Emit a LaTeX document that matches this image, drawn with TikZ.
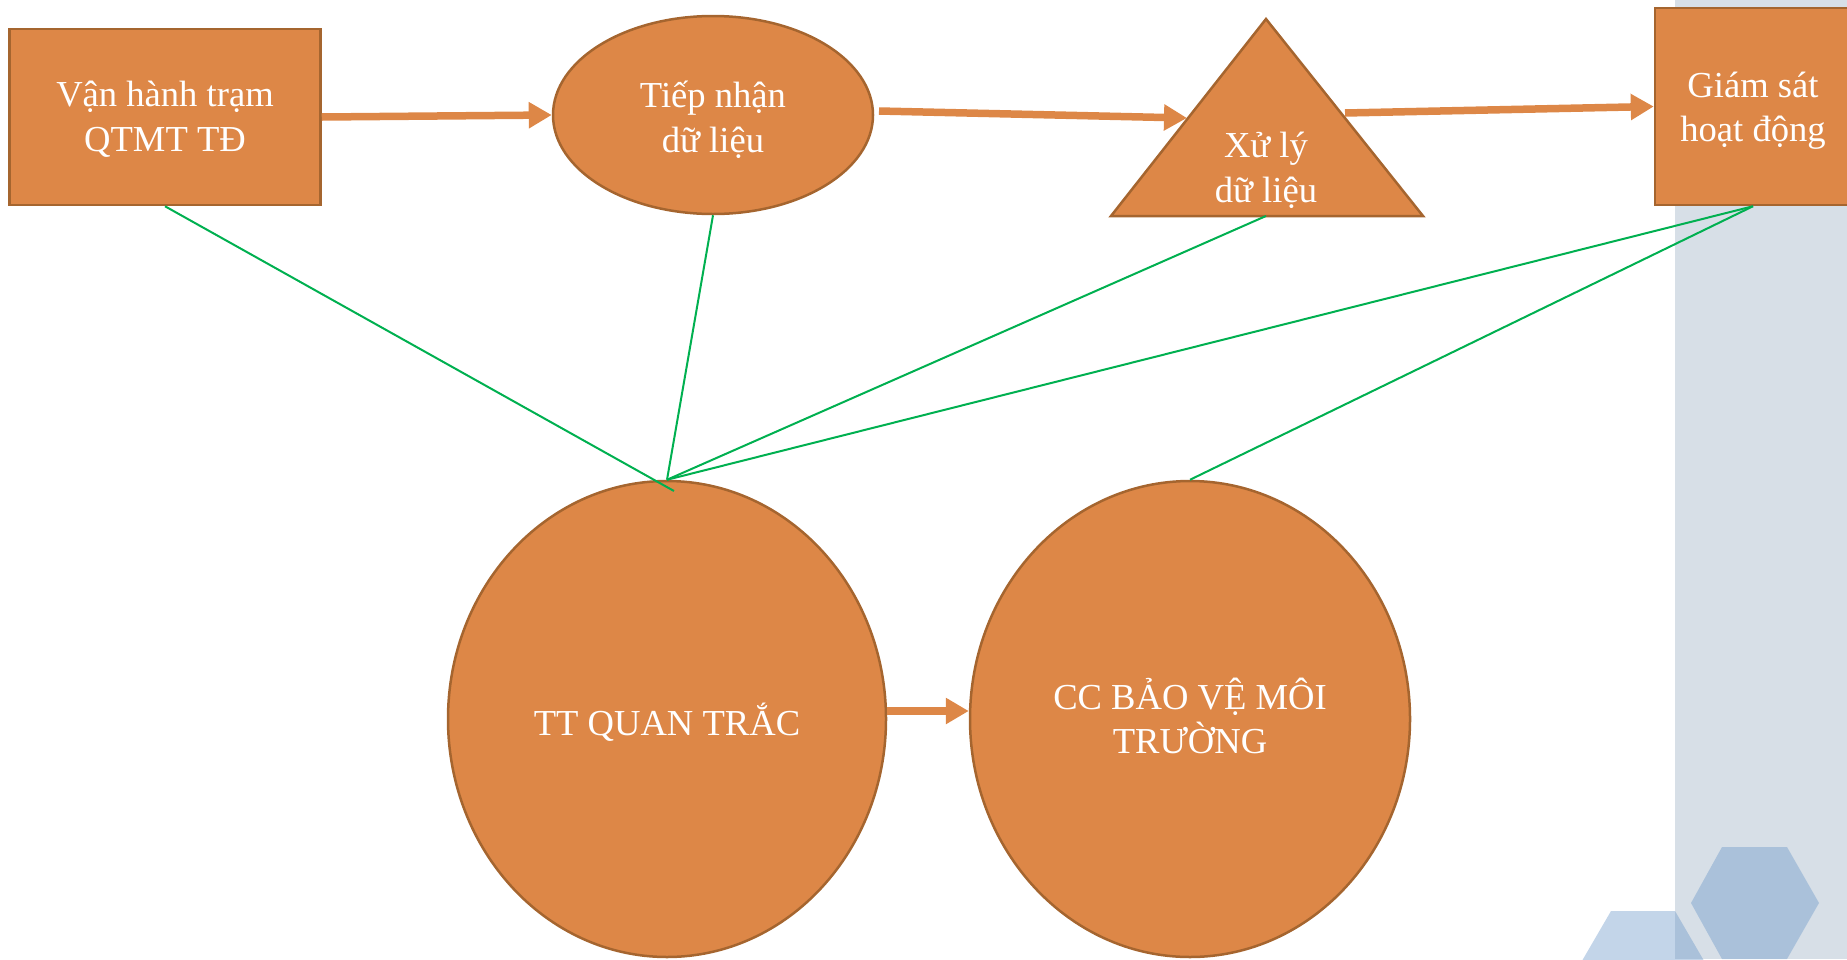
\documentclass[tikz,border=0pt]{standalone}
\usepackage{fontspec}
\setmainfont{Liberation Serif}
\usetikzlibrary{shapes.geometric,arrows.meta}
\definecolor{org}{HTML}{DD8747}
\definecolor{orgdk}{HTML}{A5652F}
\definecolor{grn}{HTML}{00B050}
\definecolor{panel}{HTML}{D7DFE7}
\definecolor{hexc}{RGB}{97,145,197}
\begin{document}
\begin{tikzpicture}[x=1pt,y=-1pt,
  shp/.style={fill=org,draw=orgdk,line width=2.5pt,inner sep=0pt},
  txt/.style={text=white,font=\fontsize{36.6}{44.5}\selectfont,align=center,inner sep=0pt,anchor=base},
  flow/.style={draw=org,line width=7.5pt,-{Triangle[length=23pt,width=25pt]}},
  link/.style={draw=grn,line width=2pt},
  hexa/.style={fill=hexc,fill opacity=0.38}]
\useasboundingbox (0,0) rectangle (1847,959);
\begin{scope}
\clip (0,0) rectangle (1847,959);
\fill[panel] (1675,0) rectangle (1847,959);
\fill[hexa] (1691,903)--(1722,847)--(1787,847)--(1819,903)--(1787,959)--(1722,959)--cycle;
\fill[hexa] (1707,966)--(1675,911)--(1611,911)--(1579,966)--(1611,1021)--(1675,1021)--cycle;

% shapes
\node[shp,rectangle,minimum width=311pt,minimum height=176pt] (b1) at (165,117) {};
\node[shp,ellipse,minimum width=320pt,minimum height=198pt] (e1) at (713,115) {};
\draw[shp] (1266,19) -- (1423,216) -- (1111,216) -- cycle;
\coordinate (tbase) at (1266,216);
\node[shp,rectangle,minimum width=196pt,minimum height=197pt] (b2) at (1753,106.5) {};
\node[shp,ellipse,minimum width=438pt,minimum height=476pt] (c1) at (667,719) {};
\node[shp,ellipse,minimum width=440pt,minimum height=476pt] (c2) at (1190,719) {};

% texts (anchor = baseline of last line)
\node[txt] (b1t) at (165,151) {Vận hành trạm\\QTMT TĐ};
\node[txt] (e1t) at (713,152) {Tiếp nhận\\dữ liệu};
\node[txt] (t1t) at (1266,202) {Xử lý\\dữ liệu};
\node[txt] (b2t) at (1753,141.5) {Giám sát\\hoạt động};
\node[txt] (c1t) at (667,735) {TT QUAN TRẮC};
\node[txt] (c2t) at (1190,753.5) {CC BẢO VỆ MÔI\\TRƯỜNG};

% green links
\coordinate (over) at (674,491);
\draw[link] (b1.south) -- (over);
\draw[link] (e1.south) -- (c1.north);
\draw[link] (tbase) -- (c1.north);
\draw[link] (b2.south) -- (c1.north);
\draw[link] (b2.south) -- (c2.north);

% orange arrows
\coordinate (a2s) at (879,111);
\coordinate (a2e) at (1187,118);
\coordinate (a3s) at (1345,113);
\draw[flow] (b1.east) -- (e1.west);
\draw[flow] (a2s) -- (a2e);
\draw[flow] (a3s) -- (b2.west);
\draw[flow] ([yshift=8pt]c1.east) -- ([yshift=8pt]c2.west);
\end{scope}
\end{tikzpicture}
\end{document}
